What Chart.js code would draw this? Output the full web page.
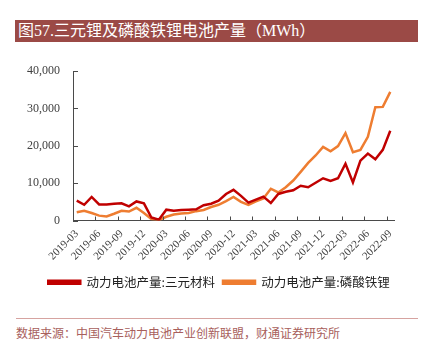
<!DOCTYPE html>
<html>
<head>
<meta charset="utf-8">
<script src="https://cdn.jsdelivr.net/npm/chart.js@4/dist/chart.umd.min.js"></script>
<style>
  html, body { margin: 0; padding: 0; background: #ffffff; }
  body { width: 431px; height: 345px; position: relative; overflow: hidden; }
  #title {
    position: absolute; left: 15px; top: 20px; width: 403px; height: 22px;
    background: #9b4a46; color: #ffffff;
    font: 16px "Liberation Serif", "Noto Sans CJK SC", serif;
    line-height: 22px; padding-left: 3px; box-sizing: border-box;
    letter-spacing: 0px; white-space: nowrap;
  }
  #wrap { position: absolute; left: 0; top: 50px; width: 431px; height: 260px; }
  #rule { position: absolute; left: 16px; top: 318px; width: 402px; height: 1px; background: #d6a3a0; }
  #source {
    position: absolute; left: 16px; top: 325px; white-space: nowrap;
    font: 12px "Noto Sans CJK SC", sans-serif; color: #a8605c; line-height: 16px;
  }
</style>
</head>
<body>
<div id="title">图57.三元锂及磷酸铁锂电池产量（MWh）</div>
<div id="wrap"><canvas id="c"></canvas></div>
<div id="rule"></div>
<div id="source">数据来源：中国汽车动力电池产业创新联盟，财通证券研究所</div>
<script>
// Monthly production, MWh
const months = [
  '2019-03','2019-04','2019-05','2019-06','2019-07','2019-08','2019-09','2019-10','2019-11','2019-12',
  '2020-01','2020-02','2020-03','2020-04','2020-05','2020-06','2020-07','2020-08','2020-09','2020-10',
  '2020-11','2020-12','2021-01','2021-02','2021-03','2021-04','2021-05','2021-06','2021-07','2021-08',
  '2021-09','2021-10','2021-11','2021-12','2022-01','2022-02','2022-03','2022-04','2022-05','2022-06',
  '2022-07','2022-08','2022-09'
];
const ternary = [
  5300, 4200, 6300, 4300, 4300, 4500, 4600, 3800, 5100, 4600,
  800, 200, 2900, 2600, 2800, 2900, 3000, 4100, 4500, 5300,
  7100, 8200, 6600, 4800, 5600, 6400, 4700, 7100, 7700, 8100,
  9300, 8900, 10100, 11300, 10600, 11300, 15200, 10200, 16000, 17900,
  16400, 18900, 24000
];
const lfp = [
  2200, 2600, 2000, 1300, 1100, 1800, 2600, 2400, 3400, 2000,
  400, 100, 1000, 1600, 1900, 2000, 2500, 2800, 3600, 4200,
  5200, 6300, 5000, 4200, 5100, 5900, 8500, 7500, 8900, 10700,
  13000, 15400, 17400, 19700, 18500, 19900, 23400, 18300, 18900, 22400,
  30300, 30400, 34400
];
const seriesNames = ['动力电池产量:三元材料', '动力电池产量:磷酸铁锂'];
const yTicks = [0, 10000, 20000, 30000, 40000];

const axisColor = '#4a4a4a';

// short tick marks drawn on the inner side of both axes
const innerTicks = {
  id: 'innerTicks',
  afterDraw(chart) {
    const { ctx, chartArea, scales } = chart;
    const x = scales.x, y = scales.y;
    ctx.save();
    ctx.strokeStyle = axisColor;
    ctx.lineWidth = 1;
    ctx.beginPath();
    y.ticks.forEach(t => {
      const py = Math.round(y.getPixelForValue(t.value)) + 0.5;
      ctx.moveTo(chartArea.left, py);
      ctx.lineTo(chartArea.left + 5, py);
    });
    const half = (x.getPixelForValue(1) - x.getPixelForValue(0)) / 2;
    months.forEach((m, i) => {
      if (i % 3 !== 0) return;
      const px = Math.round(x.getPixelForValue(i) - half) + 0.5;
      ctx.moveTo(px, chartArea.bottom - 4);
      ctx.lineTo(px, chartArea.bottom);
    });
    ctx.stroke();
    ctx.restore();
  }
};

// nudge the legend row to the right so it sits under the whole page width
const legendShift = {
  id: 'legendShift',
  afterLayout(chart) {
    const lg = chart.legend;
    if (lg) { lg.left += 22; lg.right += 22; }
  }
};

new Chart(document.getElementById('c'), {
  type: 'line',
  data: {
    labels: months,
    datasets: [
      { label: seriesNames[0], data: ternary, borderColor: '#c00000', backgroundColor: '#c00000',
        borderWidth: 2.5, pointRadius: 0, tension: 0 },
      { label: seriesNames[1], data: lfp, borderColor: '#ee7d31', backgroundColor: '#ee7d31',
        borderWidth: 2.5, pointRadius: 0, tension: 0 }
    ]
  },
  options: {
    responsive: true,
    maintainAspectRatio: false,
    animation: false,
    layout: { padding: { top: 21, right: 37, left: 0, bottom: 11.5 } },
    plugins: {
      tooltip: { enabled: false },
      legend: {
        position: 'bottom',
        labels: {
          boxWidth: 32, boxHeight: 3, padding: 8,
          color: '#222222',
          font: { family: '"Noto Sans CJK SC", sans-serif', size: 12.5 }
        }
      }
    },
    scales: {
      x: {
        offset: true,
        grid: { display: true, offset: true, drawOnChartArea: false, drawTicks: false },
        border: { display: true, color: axisColor, width: 1 },
        ticks: {
          autoSkip: false, minRotation: 45, maxRotation: 45, padding: 7,
          color: '#404040',
          font: { family: '"Liberation Serif", serif', size: 11 },
          callback: function (v, i) { return i % 3 === 0 ? this.getLabelForValue(v) : null; }
        },
        afterFit(s) { s.height = 47.5; }
      },
      y: {
        min: 0, max: 40000,
        grid: { display: true, drawOnChartArea: false, drawTicks: false },
        border: { display: true, color: axisColor, width: 1 },
        afterBuildTicks(s) { s.ticks = yTicks.map(v => ({ value: v })); },
        ticks: {
          padding: 13, color: '#404040',
          font: { family: '"Liberation Serif", serif', size: 12 },
          callback: v => v.toLocaleString('en-US')
        },
        afterFit(s) { s.width = 73; }
      }
    }
  },
  plugins: [innerTicks, legendShift]
});
</script>
</body>
</html>
